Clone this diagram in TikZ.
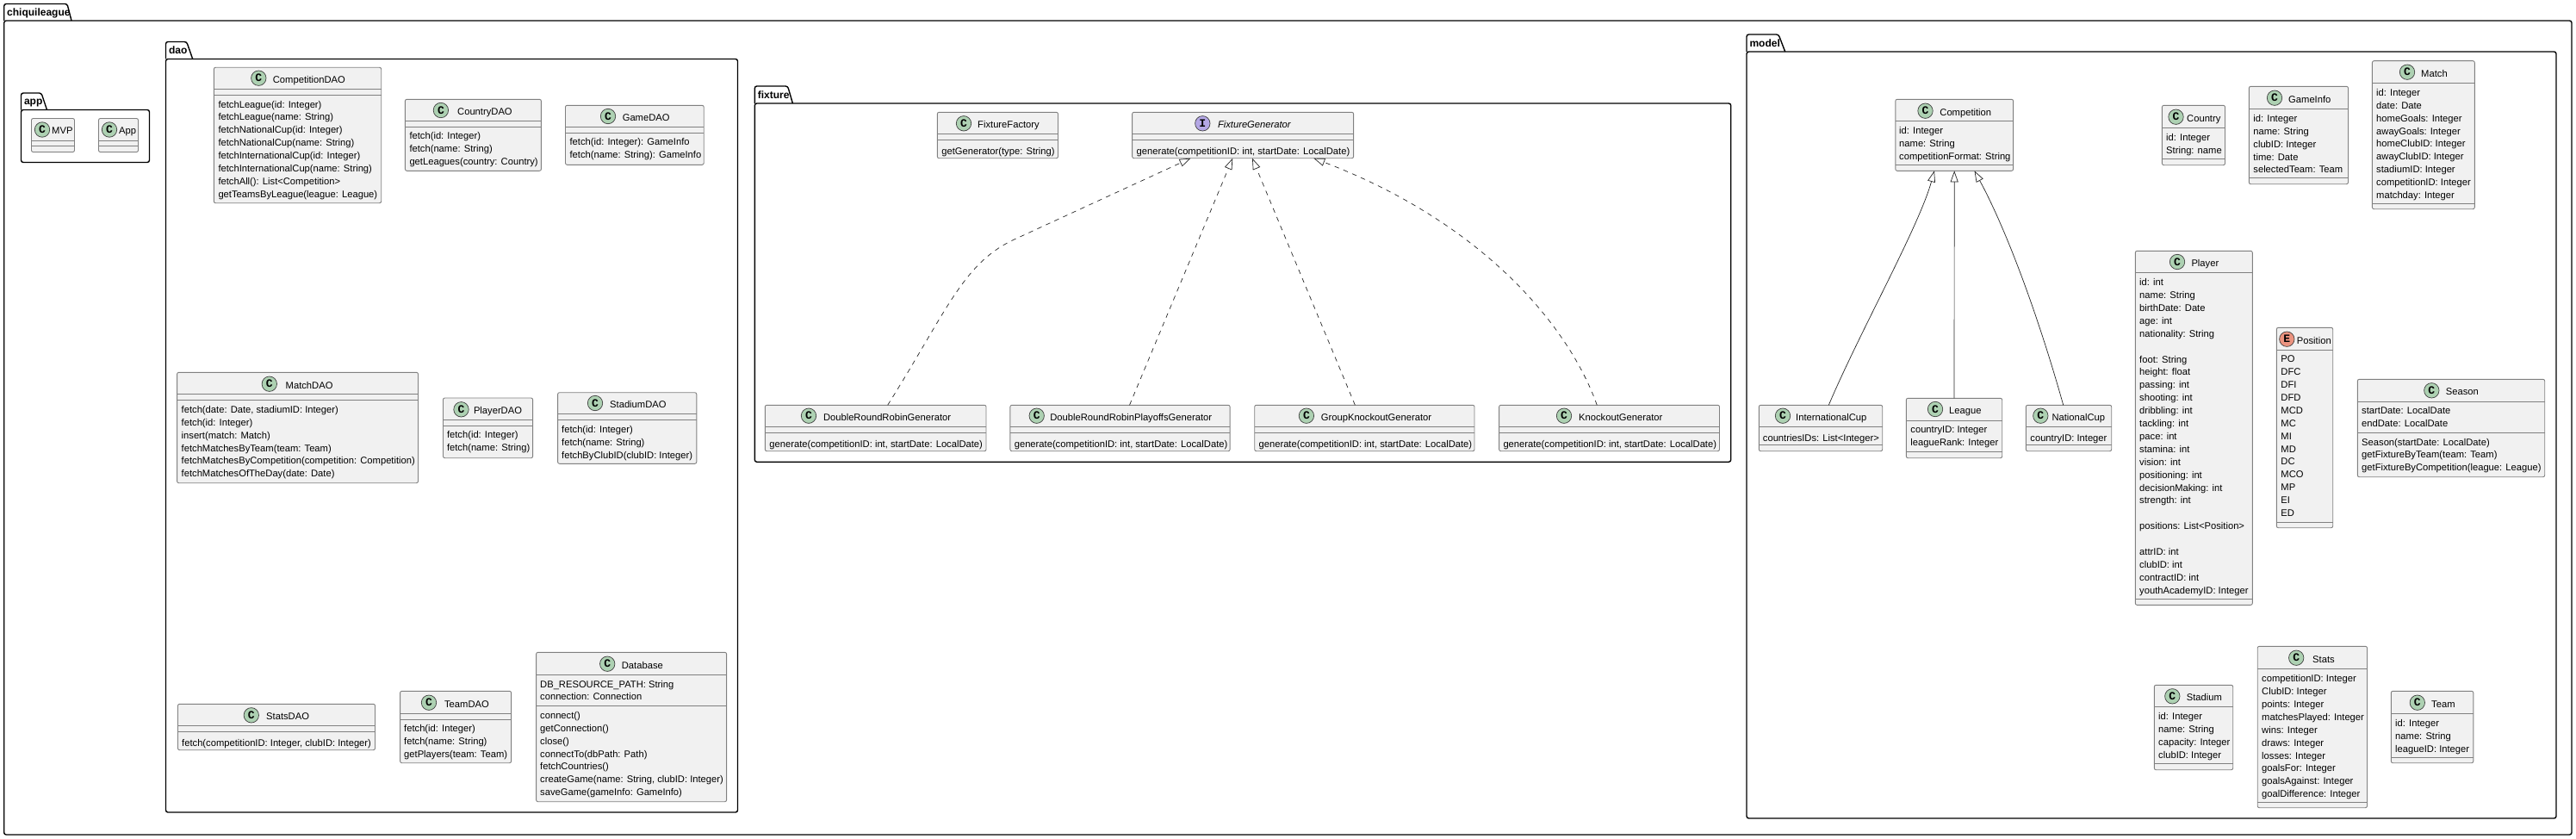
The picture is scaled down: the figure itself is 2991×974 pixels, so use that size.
\documentclass[tikz,border=0pt]{standalone}
\usepackage{fontspec}
\setmainfont{Liberation Sans}
\newfontfamily\markfont{Liberation Mono}
\usetikzlibrary{arrows.meta}

\definecolor{classgreen}{HTML}{ADD1B2}
\definecolor{ifacepurple}{HTML}{B4A7E5}
\definecolor{enumred}{HTML}{EB937F}
\definecolor{boxfill}{HTML}{F1F1F1}

\tikzset{
  pkgline/.style={line width=1.4pt, black, rounded corners=2.5pt},
  pkglabel/.style={anchor=base west, inner sep=0pt, font=\fontsize{12}{15}\selectfont\bfseries},
  classframe/.style={draw=black!50, fill=boxfill, line width=0.9pt, rounded corners=2pt, anchor=north west, inner sep=0pt, outer sep=0pt},
  classrule/.style={draw=black!50, line width=0.8pt},
  classmark/.style={circle, draw=black!75, fill=#1, line width=0.7pt, minimum size=17.4pt, inner sep=0pt, font=\markfont\fontsize{13}{13}\selectfont\bfseries},
  classtitle/.style={anchor=west, inner sep=0pt, text height=10.6pt, text depth=0pt, font=\fontsize{11.2}{14.9}\selectfont},
  members/.style={anchor=north west, inner sep=0pt, align=left, yshift=5pt, font=\fontsize{11.2}{14.9}\selectfont, execute at begin node=\strut},
  extends/.style={-{Triangle[open, fill=white, length=13pt, width=9pt]}, black!85, line width=0.7pt},
  realizes/.style={extends, dash pattern=on 5.5pt off 5.5pt}
}

\newcommand{\umlpackage}[8]{
\draw[pkgline] (#2,#4) rectangle (#5,#6);
\draw[pkgline] (#2,#4) -- (#2,#3) -- (#7,#3) -- (#8,#4);
\node[pkglabel] (#1) at ({#2+3.3},{#4-5.6}) {#1};
}
\newcommand{\umlclass}[7]{
\node[classframe, minimum width={(#4-#2)*1pt}, minimum height={(#5-#3)*1pt}] (#1) at (#2,#3) {};
\draw[classrule] (#2,#6) -- (#4,#6);
\draw[classrule] (#2,#7) -- (#4,#7);
}
\newcommand{\umlhead}[7]{
\node[classmark=#3] (#1mark) at (#4,#5) {#2};
\node[classtitle] (#1title) at (#6,#5) {#7};
}

\begin{document}
\begin{tikzpicture}[x=1pt, y=-1pt]
\useasboundingbox (0,0) rectangle (2991,974);

% packages
\umlpackage{chiquileague}{4.7}{4.5}{24}{2986}{969}{78}{83}
\umlpackage{app}{24.5}{108}{127.5}{173.5}{188.5}{48}{54.5}
\umlpackage{dao}{192.5}{48.5}{68.5}{856.5}{943}{216.7}{223.7}
\umlpackage{fixture}{876.3}{100}{120}{2009.7}{536.3}{914.6}{920.4}
\umlpackage{model}{2028}{40}{60}{2968}{950}{2065}{2072.7}

% app
\umlclass{mvp}{36.5}{137.5}{86.5}{176.5}{163.5}{169.5}
\umlhead{mvp}{C}{classgreen}{49}{150.5}{60}{MVP}
\umlclass{app}{114.5}{137.5}{160.5}{176.5}{163.5}{169.5}
\umlhead{app}{C}{classgreen}{127}{150.5}{138}{App}

% dao
\umlclass{competitiondao}{248.3}{78.3}{442.7}{235.7}{103.3}{110.7}
\umlhead{competitiondao}{C}{classgreen}{300.3}{90.7}{316.7}{CompetitionDAO}
\node[members] (competitiondaoops) at (253.3,121.7) {fetchLeague(id: Integer)\\fetchLeague(name: String)\\fetchNationalCup(id: Integer)\\fetchNationalCup(name: String)\\fetchInternationalCup(id: Integer)\\fetchInternationalCup(name: String)\\fetchAll(): List<Competition>\\getTeamsByLeague(league: League)};

\umlclass{countrydao}{470.4}{115.3}{628.4}{198.3}{140.3}{147.3}
\umlhead{countrydao}{C}{classgreen}{511.9}{128}{531}{CountryDAO}
\node[members] (countrydaoops) at (475.3,158.6) {fetch(id: Integer)\\fetch(name: String)\\getLeagues(country: Country)};

\umlclass{gamedao}{656.5}{122.3}{817.2}{191.3}{147.3}{154.3}
\umlhead{gamedao}{C}{classgreen}{706}{135}{722.6}{GameDAO}
\node[members] (gamedaoops) at (661.4,165.6) {fetch(id: Integer): GameInfo\\fetch(name: String): GameInfo};

\umlclass{matchdao}{205.6}{432.3}{485.5}{560.7}{457.7}{464.7}
\umlhead{matchdao}{C}{classgreen}{312.8}{445.7}{331.5}{MatchDAO}
\node[members] (matchdaoops) at (210.5,476) {fetch(date: Date, stadiumID: Integer)\\fetch(id: Integer)\\insert(match: Match)\\fetchMatchesByTeam(team: Team)\\fetchMatchesByCompetition(competition: Competition)\\fetchMatchesOfTheDay(date: Date)};

\umlclass{playerdao}{514.5}{462}{618.6}{531.7}{487.7}{494.3}
\umlhead{playerdao}{C}{classgreen}{535.5}{475.3}{549.8}{PlayerDAO}
\node[members] (playerdaoops) at (518.8,505.5) {fetch(id: Integer)\\fetch(name: String)};

\umlclass{stadiumdao}{647.6}{455.7}{808.8}{538.3}{480.7}{487.7}
\umlhead{stadiumdao}{C}{classgreen}{691}{468}{708}{StadiumDAO}
\node[members] (stadiumdaoops) at (652,499) {fetch(id: Integer)\\fetch(name: String)\\fetchByClubID(clubID: Integer)};

\umlclass{statsdao}{206.5}{817.3}{435.5}{870.7}{842.3}{849.3}
\umlhead{statsdao}{C}{classgreen}{291.8}{830.3}{309}{StatsDAO}
\node[members] (statsdaoops) at (211,860.6) {fetch(competitionID: Integer, clubID: Integer)};

\umlclass{teamdao}{464.6}{802.3}{593.6}{885.7}{828.3}{834.9}
\umlhead{teamdao}{C}{classgreen}{498}{815.7}{515.9}{TeamDAO}
\node[members] (teamdaoops) at (469,846.2) {fetch(id: Integer)\\fetch(name: String)\\getPlayers(team: Team)};

\umlclass{database}{622.6}{757.3}{843.6}{930.7}{783.3}{819.7}
\umlhead{database}{C}{classgreen}{705.2}{770.7}{721.7}{Database}
\node[members] (databaseattrs) at (627,794.7) {DB\_RESOURCE\_PATH: String\\connection: Connection};
\node[members] (databaseops) at (627,831) {connect()\\getConnection()\\close()\\connectTo(dbPath: Path)\\fetchCountries()\\createGame(name: String, clubID: Integer)\\saveGame(gameInfo: GameInfo)};

% fixture
\umlclass{fixturefactory}{1088.3}{130.3}{1228.5}{183.7}{155.3}{162.3}
\umlhead{fixturefactory}{C}{classgreen}{1119}{143.3}{1135}{FixtureFactory}
\node[members] (fixturefactoryops) at (1093.2,173.6) {getGenerator(type: String)};

\umlclass{generator}{1314.6}{130.3}{1571.6}{183.7}{155.3}{162.3}
\umlhead{generator}{I}{ifacepurple}{1396.3}{143.3}{1413.8}{\itshape FixtureGenerator}
\node[members] (generatorops) at (1319.5,173.6) {generate(competitionID: int, startDate: LocalDate)};

\umlclass{doublerobin}{888.3}{470.3}{1145}{523.7}{495.3}{502.3}
\umlhead{doublerobin}{C}{classgreen}{939}{482.7}{955.8}{DoubleRoundRobinGenerator}
\node[members] (doublerobinops) at (893.2,513.6) {generate(competitionID: int, startDate: LocalDate)};

\umlclass{doubleplayoffs}{1172.9}{470.3}{1428.1}{523.7}{495.3}{502.3}
\umlhead{doubleplayoffs}{C}{classgreen}{1203.7}{482.7}{1219.1}{DoubleRoundRobinPlayoffsGenerator}
\node[members] (doubleplayoffsops) at (1177.6,513.6) {generate(competitionID: int, startDate: LocalDate)};

\umlclass{groupknockout}{1456.7}{470.3}{1712}{523.7}{495.3}{502.3}
\umlhead{groupknockout}{C}{classgreen}{1516.9}{482.7}{1533.7}{GroupKnockoutGenerator}
\node[members] (groupknockoutops) at (1461.4,513.6) {generate(competitionID: int, startDate: LocalDate)};

\umlclass{knockout}{1740.6}{470.3}{1996.5}{523.7}{495.3}{502.3}
\umlhead{knockout}{C}{classgreen}{1816}{482.7}{1833}{KnockoutGenerator}
\node[members] (knockoutops) at (1745.3,513.6) {generate(competitionID: int, startDate: LocalDate)};

% model
\umlclass{competition}{2200.8}{115.3}{2337.6}{198.3}{140.3}{191.3}
\umlhead{competition}{C}{classgreen}{2235.5}{128.7}{2252.2}{Competition}
\node[members] (competitionattrs) at (2205,152) {id: Integer\\name: String\\competitionFormat: String};

\umlclass{internationalcup}{2042.3}{470.3}{2185.7}{523.7}{495.3}{516.3}
\umlhead{internationalcup}{C}{classgreen}{2070}{482.7}{2085}{InternationalCup}
\node[members] (internationalcupattrs) at (2046.7,507) {countriesIDs: List<Integer>};

\umlclass{league}{2213.3}{462.3}{2324.7}{531.7}{488.3}{524.3}
\umlhead{league}{C}{classgreen}{2247}{475}{2263}{League}
\node[members] (leagueattrs) at (2218.2,500) {countryID: Integer\\leagueRank: Integer};

\umlclass{nationalcup}{2352.3}{470.3}{2451.7}{523.7}{495.3}{516.3}
\umlhead{nationalcup}{C}{classgreen}{2369.3}{482.7}{2382.3}{NationalCup}
\node[members] (nationalcupattrs) at (2357.2,507) {countryID: Integer};

\umlclass{country}{2510.4}{122.3}{2583.5}{191.7}{148.7}{184.7}
\umlhead{country}{C}{classgreen}{2526.5}{135.7}{2539}{Country}
\node[members] (countryattrs) at (2515,160) {id: Integer\\String: name};

\umlclass{gameinfo}{2611.3}{100.3}{2726.5}{213.7}{126.7}{206.3}
\umlhead{gameinfo}{C}{classgreen}{2641}{113.7}{2657}{GameInfo}
\node[members] (gameinfoattrs) at (2616.2,138) {id: Integer\\name: String\\clubID: Integer\\time: Date\\selectedTeam: Team};

\umlclass{match}{2754.4}{70.7}{2873.3}{242.7}{96.7}{236.3}
\umlhead{match}{C}{classgreen}{2795}{83.7}{2811}{Match}
\node[members] (matchattrs) at (2759,108) {id: Integer\\date: Date\\homeGoals: Integer\\awayGoals: Integer\\homeClubID: Integer\\awayClubID: Integer\\stadiumID: Integer\\competitionID: Integer\\matchday: Integer};

\umlclass{player}{2479.3}{291.3}{2615.3}{702.3}{316.3}{695.3}
\umlhead{player}{C}{classgreen}{2528}{304}{2544.3}{Player}
\node[members] (playerattrs) at (2484,328.3) {id: int\\name: String\\birthDate: Date\\age: int\\nationality: String\\~\\foot: String\\height: float\\passing: int\\shooting: int\\dribbling: int\\tackling: int\\pace: int\\stamina: int\\vision: int\\positioning: int\\decisionMaking: int\\strength: int\\~\\positions: List<Position>\\~\\attrID: int\\clubID: int\\contractID: int\\youthAcademyID: Integer};

\umlclass{position}{2643.3}{380.3}{2708.7}{612.7}{406.7}{606.7}
\umlhead{position}{E}{enumred}{2655.3}{393.7}{2666.7}{Position}
\node[members] (positionattrs) at (2648.2,417.7) {PO\\DFC\\DFI\\DFD\\MCD\\MC\\MI\\MD\\DC\\MCO\\MP\\EI\\ED};

\umlclass{season}{2737.3}{440.3}{2954.7}{553.7}{466.3}{502.3}
\umlhead{season}{C}{classgreen}{2823.3}{453.3}{2839.7}{Season}
\node[members] (seasonattrs) at (2742,477.3) {startDate: LocalDate\\endDate: LocalDate};
\node[members] (seasonops) at (2742,513.7) {Season(startDate: LocalDate)\\getFixtureByTeam(team: Team)\\getFixtureByCompetition(league: League)};

\umlclass{stadium}{2501.3}{795.3}{2592.7}{893.7}{820.3}{886.3}
\umlhead{stadium}{C}{classgreen}{2522.3}{808.3}{2538.6}{Stadium}
\node[members] (stadiumattrs) at (2506,832) {id: Integer\\name: String\\capacity: Integer\\clubID: Integer};

\umlclass{stats}{2621.2}{750.3}{2748.5}{937.7}{776.7}{931.3}
\umlhead{stats}{C}{classgreen}{2666.2}{763.7}{2685}{Stats}
\node[members] (statsattrs) at (2626,788.3) {competitionID: Integer\\ClubID: Integer\\points: Integer\\matchesPlayed: Integer\\wins: Integer\\draws: Integer\\losses: Integer\\goalsFor: Integer\\goalsAgainst: Integer\\goalDifference: Integer};

\umlclass{team}{2776.3}{802.3}{2871.8}{885.7}{828.7}{879}
\umlhead{team}{C}{classgreen}{2806.8}{815.7}{2823}{Team}
\node[members] (teamattrs) at (2781,840) {id: Integer\\name: String\\leagueID: Integer};

% connectors
\draw[realizes] ([xshift=14pt]doublerobin.north) .. controls +(68,-108) and +(-58,28) .. (1175.5,279) -- ([xshift=-60.6pt]generator.south);
\draw[realizes] ([xshift=11pt]doubleplayoffs.north) -- ([xshift=-11.9pt]generator.south);
\draw[realizes] ([xshift=-11pt]groupknockout.north) -- ([xshift=10.9pt]generator.south);
\draw[realizes] ([xshift=-14.3pt]knockout.north) .. controls +(-30,-85) and +(204,78) .. ([xshift=82.2pt]generator.south);

\draw[extends] ([xshift=9.3pt]internationalcup.north) .. controls +(36,-85) and +(-18,65) .. ([xshift=-23.2pt]competition.south);
\draw[extends] (league) -- (competition);
\draw[extends] ([xshift=-6.3pt]nationalcup.north) .. controls +(-28,-100) and +(38,70) .. ([xshift=23.3pt]competition.south);
\end{tikzpicture}
\end{document}
